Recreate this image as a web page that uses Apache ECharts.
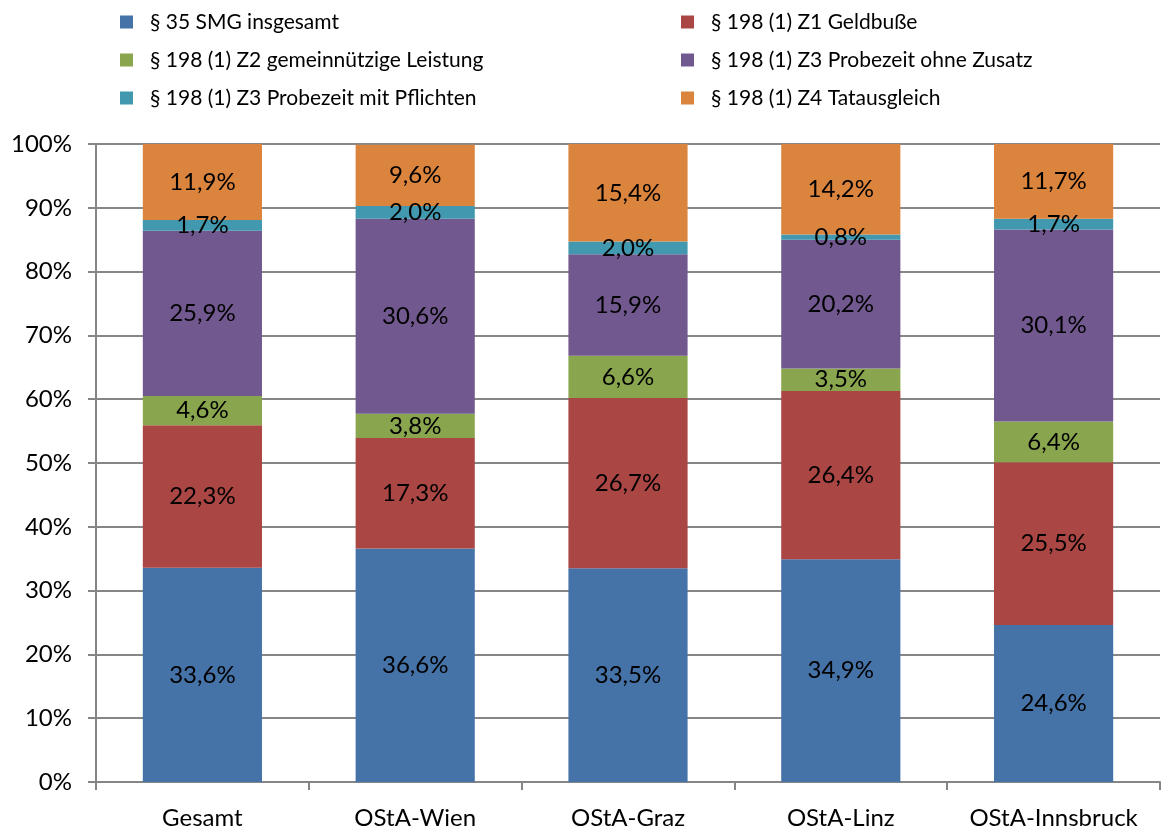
<!DOCTYPE html>
<html>
<head>
<meta charset="utf-8">
<script src="https://cdn.jsdelivr.net/npm/echarts@6/dist/echarts.min.js"></script>
<style>
  html, body { margin: 0; padding: 0; background: #fff; }
  #myChart { width: 1161px; height: 827px; }
</style>
</head>
<body>
<div id="myChart"></div>
<script>
    var categories = ['Gesamt', 'OStA-Wien', 'OStA-Graz', 'OStA-Linz', 'OStA-Innsbruck'];

    var seriesNames = [
        '§ 35 SMG insgesamt',
        '§ 198 (1) Z1 Geldbuße',
        '§ 198 (1) Z2 gemeinnützige Leistung',
        '§ 198 (1) Z3 Probezeit ohne Zusatz',
        '§ 198 (1) Z3 Probezeit mit Pflichten',
        '§ 198 (1) Z4 Tatausgleich'
    ];

    var smg      = [33.6, 36.6, 33.5, 34.9, 24.6];
    var z1       = [22.3, 17.3, 26.7, 26.4, 25.5];
    var z2       = [4.6, 3.8, 6.6, 3.5, 6.4];
    var z3ohne   = [25.9, 30.6, 15.9, 20.2, 30.1];
    var z3mit    = [1.7, 2.0, 2.0, 0.8, 1.7];
    var z4       = [11.9, 9.6, 15.4, 14.2, 11.7];

    var seriesData = [smg, z1, z2, z3ohne, z3mit, z4];
    var colors = ['#4572A7', '#AA4643', '#89A54E', '#71588F', '#4198AF', '#DB843D'];

    var fontFamily = 'Lato, "Open Sans", sans-serif';

    var myChart = echarts.init(document.getElementById('myChart'));

    function makeSeries() {
        var list = [];
        for (var i = 0; i < seriesData.length; i++) {
            list.push({
                name: seriesNames[i],
                type: 'bar',
                stack: 'total',
                barWidth: '56%',
                itemStyle: { color: colors[i] },
                label: {
                    show: true,
                    position: 'inside',
                    color: '#000',
                    fontFamily: fontFamily,
                    fontSize: 24,
                    formatter: function (p) {
                        return p.value.toFixed(1).replace('.', ',') + '%';
                    }
                },
                data: seriesData[i]
            });
        }
        return list;
    }

    var legendText = {
        color: '#000',
        fontFamily: fontFamily,
        fontSize: 21,
        lineHeight: 24,
        padding: [0, 0, 0, 12]
    };

    var option = {
        animation: false,
        color: colors,
        legend: [
            {
                orient: 'vertical',
                left: 115,
                top: 5,
                icon: 'rect',
                itemWidth: 13,
                itemHeight: 13,
                itemGap: 14,
                textStyle: legendText,
                data: [seriesNames[0], seriesNames[2], seriesNames[4]]
            },
            {
                orient: 'vertical',
                left: 676,
                top: 5,
                icon: 'rect',
                itemWidth: 13,
                itemHeight: 13,
                itemGap: 14,
                textStyle: legendText,
                data: [seriesNames[1], seriesNames[3], seriesNames[5]]
            }
        ],
        grid: {
            left: 96,
            right: 1,
            top: 144,
            bottom: 45,
            containLabel: false,
            outerBoundsMode: 'none'
        },
        xAxis: {
            type: 'category',
            data: categories,
            axisLine: { lineStyle: { color: '#868686', width: 2 } },
            axisTick: { show: true, length: 8, lineStyle: { color: '#868686', width: 2 } },
            axisLabel: {
                color: '#000',
                fontFamily: fontFamily,
                fontSize: 24,
                interval: 0,
                margin: 24
            }
        },
        yAxis: {
            type: 'value',
            min: 0,
            max: 100,
            interval: 10,
            axisLine: { show: true, lineStyle: { color: '#868686', width: 2 } },
            axisTick: { show: true, length: 8, lineStyle: { color: '#868686', width: 2 } },
            splitLine: { lineStyle: { color: '#868686', width: 2 } },
            axisLabel: {
                color: '#000',
                fontFamily: fontFamily,
                fontSize: 24,
                margin: 24,
                formatter: '{value}%'
            }
        },
        series: makeSeries()
    };

    myChart.setOption(option);
</script>
</body>
</html>
